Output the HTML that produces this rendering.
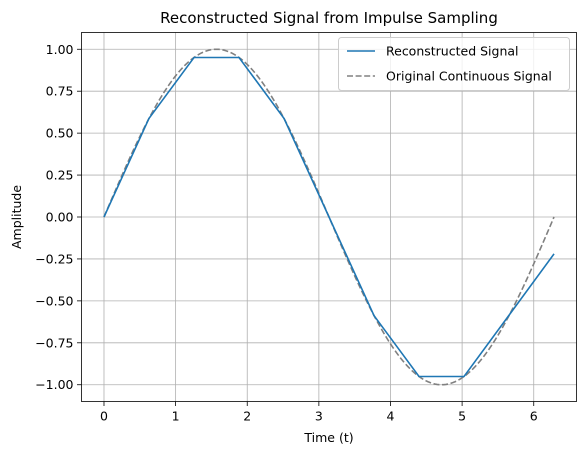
<!DOCTYPE html>
<html><head><meta charset="utf-8"><style>
body{margin:0;background:#fff;}
svg{display:block;font-family:"DejaVu Sans","Liberation Sans",sans-serif;}
</style></head><body>
<svg id="chart" width="587" height="455" viewBox="0 0 587 455" xmlns="http://www.w3.org/2000/svg"></svg>
<script>
const xTicks=[0,1,2,3,4,5,6];
const yTicks=[-1.00,-0.75,-0.50,-0.25,0.00,0.25,0.50,0.75,1.00];
const reconT=[0,0.6283,1.2566,1.885,2.5133,3.1416,3.7699,4.3982,5.0265,6.2832];
const reconV=[0,0.588,0.951,0.951,0.588,0,-0.588,-0.951,-0.951,-0.22];
const origN=200;
const origT=[];const origV=[];
for(let i=0;i<=origN;i++){const t=2*Math.PI*i/origN;origT.push(t);origV.push(Math.sin(t));}
const L=81.5,R=576.5,T=32.5,B=401.5;
const xmin=-0.314,xmax=6.597,ymin=-1.1,ymax=1.1;
const X=v=>L+(v-xmin)/(xmax-xmin)*(R-L);
const Y=v=>B-(v-ymin)/(ymax-ymin)*(B-T);
const svg=document.getElementById('chart');
const NS='http://www.w3.org/2000/svg';
function mk(tag,attrs,parent){const e=document.createElementNS(NS,tag);for(const k in attrs)e.setAttribute(k,attrs[k]);(parent||svg).appendChild(e);return e;}
const grid=mk('g',{});


xTicks.forEach(v=>{
 const l=mk('line',{x1:X(v),x2:X(v),y1:T,y2:B,stroke:'#b0b0b0','stroke-width':0.8},grid);
 
 
 const tk=mk('line',{x1:X(v),x2:X(v),y1:B,y2:B+4.5,stroke:'#000','stroke-width':0.8});
 
 
 const tx=mk('text',{x:X(v),y:B+19,'font-size':12.5,'text-anchor':'middle',fill:'#000'});
 tx.textContent=v;
 
 
});
yTicks.forEach(v=>{
 const l=mk('line',{x1:L,x2:R,y1:Y(v),y2:Y(v),stroke:'#b0b0b0','stroke-width':0.8},grid);
 
 
 const tk=mk('line',{x1:L-4.5,x2:L,y1:Y(v),y2:Y(v),stroke:'#000','stroke-width':0.8});
 
 
 const tx=mk('text',{x:L-8,y:Y(v)+4.5,'font-size':12.5,'text-anchor':'end',fill:'#000'});
 tx.textContent=(v<0?'\u2212':'')+Math.abs(v).toFixed(2);
 
 
});
const orig=mk('polyline',{points:origT.map((t,i)=>X(t)+','+Y(origV[i])).join(' '),fill:'none',stroke:'#808080','stroke-width':1.6,'stroke-dasharray':'6,2.6'});


const rec=mk('polyline',{points:reconT.map((t,i)=>X(t)+','+Y(reconV[i])).join(' '),fill:'none',stroke:'#1f77b4','stroke-width':1.6});


const frame=mk('rect',{x:L,y:T,width:R-L,height:B-T,fill:'none',stroke:'#000','stroke-width':0.8});


const title=mk('text',{x:(L+R)/2,y:23,'font-size':15,'text-anchor':'middle',fill:'#000'});
title.textContent='Reconstructed Signal from Impulse Sampling';


const xl=mk('text',{x:(L+R)/2,y:442,'font-size':12.5,'text-anchor':'middle',fill:'#000'});
xl.textContent='Time (t)';


const yl=mk('text',{x:21,y:(T+B)/2,'font-size':12.5,'text-anchor':'middle',fill:'#000',transform:'rotate(-90 21 '+((T+B)/2)+')'});
yl.textContent='Amplitude';


const lg=mk('g',{});


mk('rect',{x:338.5,y:37.5,width:231,height:53,rx:3,fill:'#fff','fill-opacity':0.8,stroke:'#ccc','stroke-width':1},lg);
const e1=mk('line',{x1:347,x2:375,y1:51,y2:51,stroke:'#1f77b4','stroke-width':1.6},lg);


const t1=mk('text',{x:386,y:55.5,'font-size':12.5,fill:'#000'},lg);t1.textContent='Reconstructed Signal';


const e2=mk('line',{x1:347,x2:375,y1:76,y2:76,stroke:'#808080','stroke-width':1.6,'stroke-dasharray':'6,2.6'},lg);


const t2=mk('text',{x:386,y:80.5,'font-size':12.5,fill:'#000'},lg);t2.textContent='Original Continuous Signal';


</script>
</body></html>
